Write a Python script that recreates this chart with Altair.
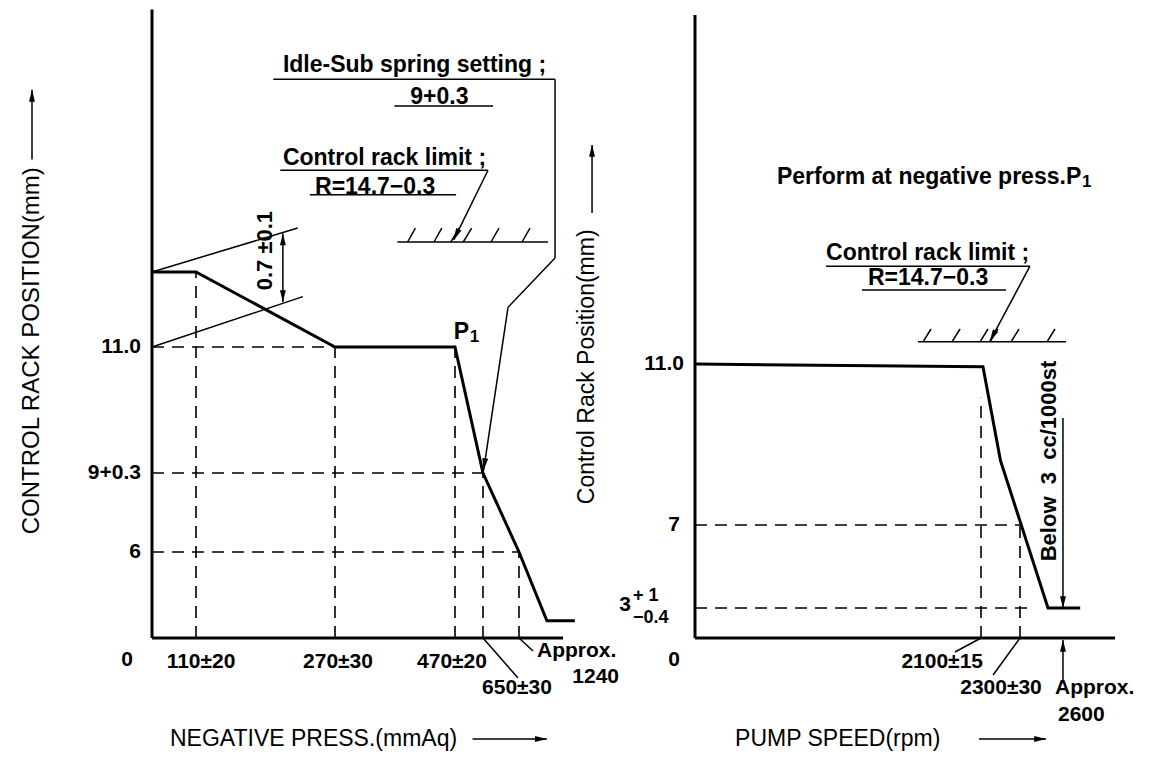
import altair as alt
import pandas as pd

FONT = "Liberation Sans, Arial, Helvetica, sans-serif"

# ---------------- left chart: negative pressure (mmAq) -> control rack position (mm)
press_curve = [0, 110, 270, 470, 650, 1240, 1405, 1570]
rack_curve = [11.7, 11.7, 11.0, 11.0, 9.3, 6.0, 1.2, 1.2]
press_ticks = [110, 270, 470, 650, 1240]
press_tick_rack = [11.7, 11.0, 11.0, 9.3, 6.0]
rack_ticks = [11.0, 9.3, 6.0]
rack_tick_labels = ["11.0", "9+0.3", "6"]
rack_tick_press = [270, 650, 1240]
press_axis_end = 1500
rack_axis_top = 14.15

# ---------------- right chart: pump speed (rpm) -> control rack position (mm)
speed_curve = [0, 2110, 2200, 2500, 2730]
rack2_curve = [11.0, 10.93, 8.6, 3.0, 3.0]
speed_ticks = [2100, 2300]
speed_tick_rack = [10.16, 7.0]
rack2_ticks = [7.0, 3.0]
rack2_tick_speed = [2300, 2370]
speed_axis_end = 2979
rack2_axis_top = 19.67

# ---------------- annotation geometry (data units of each chart)
lt_x = [199, 1453, 1453, 1060, 369, 207, 241, 732, 374, 391, 435, 463, 523, 781, 1258, 0, 0, 210, 650, 1240, -300, 583]
lt_y = [13.50, 13.50, 11.83, 11.37, 13.25, 12.65, 12.42, 12.65, 11.98, 11.98, 11.98, 11.98, 11.98, 11.98, 11.98,
        11.7, 11.0, 12.06, 0, 0, 12.75, -7.05]
lt_x2 = [1453, 1453, 1060, 660, 814, 732, 477, 468, 1411, 404, 448, 497, 577, 912, 1305, 227, 233, 210, 1224, 1323, -300, 1405]
lt_y2 = [13.50, 11.83, 11.37, 9.34, 13.25, 12.65, 12.42, 12.0, 11.98, 12.11, 12.11, 12.11, 12.11, 12.11, 12.11,
         12.11, 11.47, 11.42, -2.79, -0.91, 13.4, -7.05]
lh_x = [660, 468, 210, 210, -300, 1405]
lh_y = [9.34, 12.0, 12.06, 11.42, 13.4, -7.05]
lh_angle = [8, 25, 180, 0, 180, 270]

rt_x = [962, 1226, 2371, 1637, 1674, 1887, 2093, 2146, 2254, 2493, 2607, 2607, 2100, 2300, -756, 2085]
rt_y = [13.43, 12.84, 13.43, 11.55, 11.55, 11.55, 11.55, 11.55, 11.55, 11.55, 9.66, -4.5, 0, 0, 14.75, -10.1]
rt_x2 = [2371, 2228, 2146, 2629, 1733, 1946, 2136, 2187, 2295, 2550, 2607, 2607, 1909, 2162, -756, 2486]
rt_y2 = [13.43, 12.84, 11.57, 11.55, 11.87, 11.87, 11.87, 11.87, 11.87, 11.87, 3.0, -0.2, -1.4, -3.7, 16.44, -10.1]
rh_x = [2146, 2607, 2607, -756, 2486]
rh_y = [11.57, 3.0, -0.2, 16.44, -10.1]
rh_angle = [28, 0, 180, 180, 270]

# ---------------- texts
left_notes = ["Idle-Sub spring setting ;", "9+0.3", "Control rack limit ;", "R=14.7\u22120.3", "P"]
left_note_x = [210, 444, 210, 247, 468]
left_note_y = [13.63, 13.33, 12.76, 12.49, 11.14]
left_note_align = ["left", "center", "left", "left", "left"]

right_notes = ["Perform at negative press.P", "Control rack limit ;", "R=14.7\u22120.3"]
right_note_x = [602, 962, 1270]
right_note_y = [15.65, 13.76, 13.14]

# ---------------- scales (schematic, piecewise as in the drawing)
LX = alt.Scale(domain=[0, 110, 270, 470, 650, 1240, 1500], range=[144, 188, 327, 447, 475, 511, 555], zero=False, nice=False)
LY = alt.Scale(domain=[0, 6, 9.3, 11.0, 11.7], range=[630, 544, 465, 339, 264], zero=False, nice=False)
RX = alt.Scale(domain=[0, 2100, 2300, 2600], range=[687, 973, 1012, 1054], zero=False, nice=False)
RY = alt.Scale(domain=[0, 3, 7, 11], range=[630, 600, 517, 356], zero=False, nice=False)

HEAD = "M-0.5,-2L0.5,-2L0,0Z"


def xy(sx, sy):
    return dict(x=alt.X("x:Q", scale=sx, axis=None), y=alt.Y("y:Q", scale=sy, axis=None))


def rules(xs, ys, x2s, y2s, sx, sy, width, dash=None):
    df = pd.DataFrame({"x": xs, "y": ys, "x2": x2s, "y2": y2s})
    kw = dict(color="black", strokeWidth=width, strokeCap="butt")
    if dash:
        kw["strokeDash"] = dash
    return alt.Chart(df).mark_rule(**kw).encode(**xy(sx, sy), x2="x2:Q", y2="y2:Q")


def polyline(xs, ys, sx, sy, width):
    df = pd.DataFrame({"x": xs, "y": ys, "i": list(range(len(xs)))})
    return alt.Chart(df).mark_line(color="black", strokeWidth=width, strokeJoin="miter").encode(
        **xy(sx, sy), order="i:Q")


def heads(xs, ys, angles, sx, sy):
    df = pd.DataFrame({"x": xs, "y": ys, "a": angles})
    return alt.Chart(df).mark_point(filled=True, color="black", opacity=1, size=140, shape=HEAD, strokeWidth=0).encode(
        **xy(sx, sy), angle=alt.Angle("a:Q", scale=None))


def label(text, x, y, sx, sy, align="left", dx=0, dy=0, angle=0, size=23, weight="bold"):
    df = pd.DataFrame({"x": [x], "y": [y], "t": [text]})
    kw = dict(align=align, baseline="middle", dx=dx, dy=dy, fontSize=size, fontWeight=weight,
              font=FONT, color="black")
    if angle:
        kw["angle"] = angle
    return alt.Chart(df).mark_text(**kw).encode(**xy(sx, sy), text="t:N")


layers = []

# ---- left chart
layers.append(rules([0, 0], [0, 0], [0, press_axis_end], [rack_axis_top, 0], LX, LY, 3))
layers.append(rules(press_ticks, [0] * len(press_ticks), press_ticks, press_tick_rack, LX, LY, 1.6, [12, 8]))
layers.append(rules([0] * len(rack_ticks), rack_ticks, rack_tick_press, rack_ticks, LX, LY, 1.6, [12, 8]))
layers.append(polyline(press_curve, rack_curve, LX, LY, 3))
layers.append(rules(lt_x, lt_y, lt_x2, lt_y2, LX, LY, 1.5))
layers.append(heads(lh_x, lh_y, lh_angle, LX, LY))
for t, x, y, a in zip(left_notes, left_note_x, left_note_y, left_note_align):
    layers.append(label(t, x, y, LX, LY, align=a))
layers.append(label("1", 468, 11.14, LX, LY, align="left", dx=16, dy=5, size=17))
layers.append(label("0.7 \u00b10.1", 189, 11.9, LX, LY, align="center", angle=270, size=22))
for t, v in zip(rack_tick_labels, rack_ticks):
    layers.append(label(t, 0, v, LX, LY, align="right", dx=-11, size=21))
layers.append(label("0", 0, 0, LX, LY, align="center", dx=-25, dy=22, size=21))
layers.append(label("110\u00b120", 110, 0, LX, LY, align="center", dx=5, dy=24, size=21))
layers.append(label("270\u00b130", 270, 0, LX, LY, align="center", dx=3, dy=24, size=21))
layers.append(label("470\u00b120", 470, 0, LX, LY, align="center", dx=-3, dy=24, size=21))
layers.append(label("650\u00b130", 650, 0, LX, LY, align="center", dx=34, dy=50, size=21))
layers.append(label("Approx.", 1240, 0, LX, LY, align="left", dx=18, dy=13, size=21))
layers.append(label("1240", 1240, 0, LX, LY, align="right", dx=100, dy=39, size=21))
layers.append(label("CONTROL RACK POSITION(mm)", -300, 10.95, LX, LY, align="center", angle=270, size=24, weight="normal"))
layers.append(label("NEGATIVE PRESS.(mmAq)", 45, -7.05, LX, LY, align="left", weight="normal"))

# ---- right chart
layers.append(rules([0, 0], [0, 0], [0, speed_axis_end], [rack2_axis_top, 0], RX, RY, 3))
layers.append(rules(speed_ticks, [0] * len(speed_ticks), speed_ticks, speed_tick_rack, RX, RY, 1.6, [12, 8]))
layers.append(rules([0] * len(rack2_ticks), rack2_ticks, rack2_tick_speed, rack2_ticks, RX, RY, 1.6, [12, 8]))
layers.append(polyline(speed_curve, rack2_curve, RX, RY, 3))
layers.append(rules(rt_x, rt_y, rt_x2, rt_y2, RX, RY, 1.5))
layers.append(heads(rh_x, rh_y, rh_angle, RX, RY))
for t, x, y in zip(right_notes, right_note_x, right_note_y):
    layers.append(label(t, x, y, RX, RY, align="left"))
layers.append(label("1", 602, 15.65, RX, RY, align="left", dx=305, dy=5, size=17))
layers.append(label("Below\u00a0\u00a03\u00a0\u00a0cc/1000st", 2507, 8.59, RX, RY, align="center", angle=270, size=22))
layers.append(label("11.0", 0, 11.0, RX, RY, align="right", dx=-11, size=21))
layers.append(label("7", 0, 7.0, RX, RY, align="right", dx=-15, size=21))
layers.append(label("3", 0, 3.0, RX, RY, align="right", dx=-64, dy=-3, size=21))
layers.append(label("+ 1", 0, 3.0, RX, RY, align="left", dx=-62, dy=-12, size=18))
layers.append(label("\u22120.4", 0, 3.0, RX, RY, align="left", dx=-62, dy=10, size=18))
layers.append(label("0", 0, 0, RX, RY, align="center", dx=-21, dy=22, size=21))
layers.append(label("2100\u00b115", 2100, 0, RX, RY, align="right", dx=2, dy=24, size=21))
layers.append(label("2300\u00b130", 2300, 0, RX, RY, align="center", dx=-19, dy=50, size=21))
layers.append(label("Approx.", 2600, 0, RX, RY, align="left", dx=-7, dy=50, size=21))
layers.append(label("2600", 2600, 0, RX, RY, align="left", dx=-4, dy=77, size=21))
layers.append(label("Control Rack Position(mm)", -793, 10.93, RX, RY, align="center", angle=270, weight="normal"))
layers.append(label("PUMP SPEED(rpm)", 294, -10.1, RX, RY, align="left", weight="normal"))

chart = alt.layer(*layers).resolve_scale(x="independent", y="independent").properties(
    width=1143, height=743, autosize=alt.AutoSizeParams(type="none"), padding=0,
    background="white"
).configure_view(stroke=None)

chart.save("out.html", embed_options={"renderer": "svg", "actions": False})
